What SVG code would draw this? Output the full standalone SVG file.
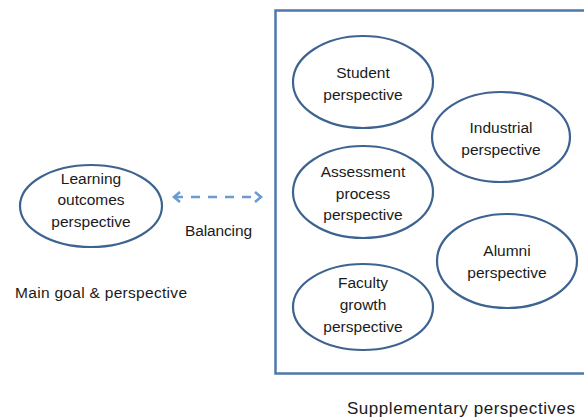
<svg xmlns="http://www.w3.org/2000/svg" width="584" height="418" viewBox="0 0 584 418">
<style>
.n{fill:#fff;stroke:#3d6390;stroke-width:2.2}
.t{font-family:"Liberation Sans",Arial,sans-serif;font-size:15.5px;fill:#1a1a1a;text-anchor:middle}
.l{font-family:"Liberation Sans",Arial,sans-serif;font-size:15.5px;fill:#1a1a1a}
</style>
<defs>
<marker id="chev" viewBox="0 0 10 12" refX="8" refY="6" markerWidth="10" markerHeight="12" markerUnits="userSpaceOnUse" orient="auto-start-reverse">
<path d="M2,1 L8,6 L2,11" fill="none" stroke="#6b9bd2" stroke-width="2.6"/>
</marker>
</defs>
<rect x="275.5" y="10.5" width="318" height="363" fill="#fff" stroke="#4f78aa" stroke-width="2.5"/>
<g id="connectors">
<line x1="174" y1="197" x2="261" y2="197" stroke="#6b9bd2" stroke-width="2.6" stroke-dasharray="9,8" marker-start="url(#chev)" marker-end="url(#chev)"/>
</g>
<g id="learning"><ellipse class="n" cx="91" cy="206" rx="71" ry="41"/>
<text class="t" x="91" y="184">Learning</text><text class="t" x="91" y="205">outcomes</text><text class="t" x="91" y="227">perspective</text></g>
<g id="student"><ellipse class="n" cx="363" cy="82" rx="70" ry="46"/>
<text class="t" x="363" y="78">Student</text><text class="t" x="363" y="100">perspective</text></g>
<g id="industrial"><ellipse class="n" cx="501" cy="137" rx="69" ry="45"/>
<text class="t" x="501" y="133">Industrial</text><text class="t" x="501" y="155">perspective</text></g>
<g id="assessment"><ellipse class="n" cx="363" cy="192" rx="70" ry="46"/>
<text class="t" x="363" y="177">Assessment</text><text class="t" x="363" y="199">process</text><text class="t" x="363" y="220">perspective</text></g>
<g id="alumni"><ellipse class="n" cx="507" cy="261" rx="70" ry="47"/>
<text class="t" x="507" y="256">Alumni</text><text class="t" x="507" y="278">perspective</text></g>
<g id="faculty"><ellipse class="n" cx="363" cy="307" rx="70" ry="43"/>
<text class="t" x="363" y="288">Faculty</text><text class="t" x="363" y="310">growth</text><text class="t" x="363" y="332">perspective</text></g>
<text class="l" x="185" y="236" textLength="67" lengthAdjust="spacing">Balancing</text>
<text class="l" x="15" y="298" textLength="172" lengthAdjust="spacing">Main goal &amp; perspective</text>
<text class="l" x="347" y="414" style="font-size:17px" textLength="228" lengthAdjust="spacing">Supplementary perspectives</text>
</svg>
